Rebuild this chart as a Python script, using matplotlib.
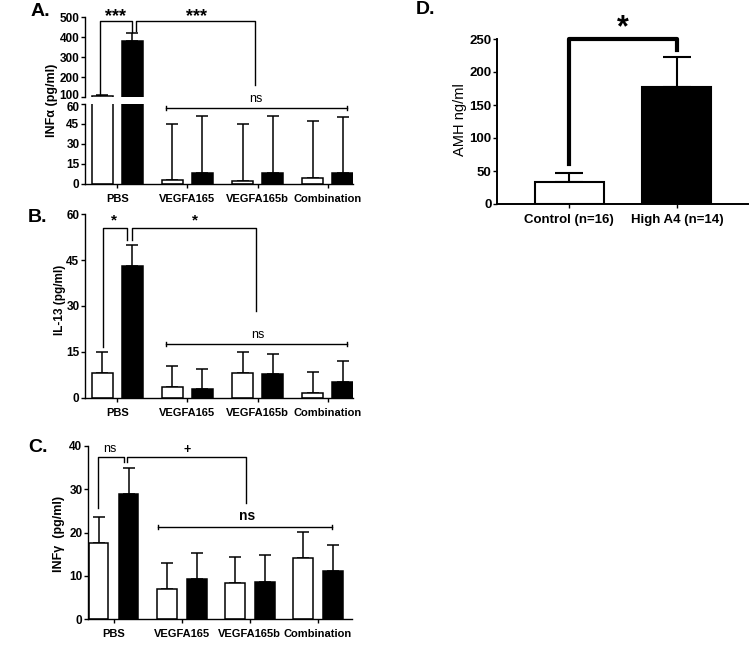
import numpy as np
import matplotlib
matplotlib.use('Agg')
import matplotlib.pyplot as plt
from matplotlib.transforms import ScaledTranslation

plt.rcParams['font.family'] = ['Liberation Sans', 'DejaVu Sans']
plt.rcParams['font.weight'] = 'bold'
plt.rcParams['axes.linewidth'] = 1.0

groups = ['PBS', 'VEGFA165', 'VEGFA165b', 'Combination']

# panel A: INFα (pg/ml)
a_white = [103, 3, 2.5, 4.5]
a_white_err = [5, 42, 42.5, 42.5]
a_black = [380, 8.5, 8.5, 8]
a_black_err = [40, 42.5, 42.5, 42]

# panel B: IL-13 (pg/ml)
b_white = [8.2, 3.5, 8.2, 1.6]
b_white_err = [6.8, 6.9, 6.8, 6.9]
b_black = [43, 2.8, 7.8, 5.2]
b_black_err = [6.8, 6.7, 6.7, 6.8]

# panel C: INFγ (pg/ml)
c_white = [17.5, 7.0, 8.4, 14.1]
c_white_err = [6.0, 6.0, 6.0, 6.0]
c_black = [28.9, 9.3, 8.6, 11.1]
c_black_err = [6.0, 6.0, 6.1, 6.0]

# panel D: AMH ng/ml
d_groups = ['Control (n=16)', 'High A4 (n=14)']
d_values = [33, 177]
d_err = [14, 46]

W, H = 750, 646


def rect(left, top, right, bottom):
    return [left / W, 1 - bottom / H, (right - left) / W, (bottom - top) / H]


def style(ax, bottom=True):
    ax.spines['top'].set_visible(False)
    ax.spines['right'].set_visible(False)
    if not bottom:
        ax.spines['bottom'].set_visible(False)
    ax.tick_params(axis='y', length=3, width=1, labelsize=8.5, pad=1)
    ax.tick_params(axis='x', length=3, width=1, labelsize=8, pad=4)


def bars(ax, white, werr, black, berr, off, width):
    x = np.arange(len(white))
    ax.bar(x - off, white, width, color='white', edgecolor='black', lw=1.1, zorder=2)
    ax.bar(x + off, black, width, color='black', edgecolor='black', lw=1.1, zorder=2)
    ax.errorbar(x - off, white, yerr=[np.zeros(len(white)), werr], fmt='none',
                ecolor='black', elinewidth=1.1, capsize=4, capthick=1.1, zorder=1)
    ax.errorbar(x + off, black, yerr=[np.zeros(len(black)), berr], fmt='none',
                ecolor='black', elinewidth=1.1, capsize=4, capthick=1.1, zorder=1)


def bracket(ax, x1, x2, top, y1, y2, lw=1.0):
    ax.plot([x1, x1, x2, x2], [y1, top, top, y2], color='black', lw=lw, clip_on=False)


def ns_line(ax, x1, x2, y, tick):
    ax.plot([x1, x2], [y, y], color='black', lw=1.0, clip_on=False)
    for xx in (x1, x2):
        ax.plot([xx, xx], [y - tick, y + tick], color='black', lw=1.0, clip_on=False)


fig = plt.figure(figsize=(7.5, 6.46), dpi=100)

# ---- A (broken axis) ----
axu = fig.add_axes(rect(85, 17, 353, 97))
axl = fig.add_axes(rect(85, 104, 353, 184))
for ax in (axu, axl):
    bars(ax, a_white, a_white_err, a_black, a_black_err, 0.213, 0.3)
    ax.set_xlim(-0.46, 3.36)
axu.set_ylim(100, 500)
axu.set_yticks([100, 200, 300, 400, 500])
axu.set_xticks([])
style(axu, bottom=False)
axl.set_ylim(0, 60)
axl.set_yticks([0, 15, 30, 45, 60])
axl.set_xticks(range(4))
axl.set_xticklabels(groups)
style(axl)
# nudge the two labels at the break apart a little
lab100 = axu.yaxis.get_major_ticks()[0].label1
lab100.set_transform(lab100.get_transform() + ScaledTranslation(0, 2.5 / 100, fig.dpi_scale_trans))
lab60 = axl.yaxis.get_major_ticks()[-1].label1
lab60.set_transform(lab60.get_transform() + ScaledTranslation(0, -2.5 / 100, fig.dpi_scale_trans))
bracket(axu, -0.25, 0.21, 480, 110, 425)
bracket(axu, 0.26, 1.96, 480, 430, 160)
axu.text(-0.02, 460, '***', ha='center', va='bottom', fontsize=13)
axu.text(1.13, 460, '***', ha='center', va='bottom', fontsize=13)
ns_line(axl, 0.70, 3.27, 57, 1.5)
axl.text(1.98, 59, 'ns', ha='center', va='bottom', fontsize=9, fontweight='normal')
fig.text(52 / W, 1 - 100 / H, 'INFα (pg/ml)', rotation=90, ha='center', va='center', fontsize=9)

# ---- B ----
axb = fig.add_axes(rect(85, 214, 353, 398))
bars(axb, b_white, b_white_err, b_black, b_black_err, 0.213, 0.3)
axb.set_xlim(-0.46, 3.36)
axb.set_ylim(0, 60)
axb.set_yticks([0, 15, 30, 45, 60])
axb.set_xticks(range(4))
axb.set_xticklabels(groups)
style(axb)
bracket(axb, -0.2, 0.145, 55.4, 16.6, 51.5)
bracket(axb, 0.215, 1.98, 55.4, 51.5, 28.4)
axb.text(-0.04, 55.5, '*', ha='center', va='bottom', fontsize=11)
axb.text(1.11, 55.5, '*', ha='center', va='bottom', fontsize=11)
ns_line(axb, 0.70, 3.28, 17.6, 0.8)
axb.text(2.0, 18.6, 'ns', ha='center', va='bottom', fontsize=9, fontweight='normal')
fig.text(60 / W, 1 - 300 / H, 'IL-13 (pg/ml)', rotation=90, ha='center', va='center', fontsize=8.5)

# ---- C ----
axc = fig.add_axes(rect(88, 446, 352, 619))
bars(axc, c_white, c_white_err, c_black, c_black_err, 0.22, 0.29)
axc.set_xlim(-0.375, 3.5)
axc.set_ylim(0, 40)
axc.set_yticks([0, 10, 20, 30, 40])
axc.set_xticks(range(4))
axc.set_xticklabels(groups)
style(axc)
bracket(axc, -0.23, 0.15, 37.4, 25.6, 36.3)
bracket(axc, 0.2, 1.95, 37.4, 36.3, 26.8)
axc.text(-0.05, 37.9, 'ns', ha='center', va='bottom', fontsize=9, fontweight='normal')
axc.text(1.08, 37.6, '+', ha='center', va='bottom', fontsize=9)
ns_line(axc, 0.65, 3.2, 21.3, 0.5)
axc.text(1.96, 22.2, 'ns', ha='center', va='bottom', fontsize=10)
fig.text(59 / W, 1 - 534 / H, 'INFγ  (pg/ml)', rotation=90, ha='center', va='center', fontsize=9)

# ---- D ----
axd = fig.add_axes(rect(497, 39, 748, 204))
xd = np.arange(len(d_values))
axd.bar(xd, d_values, 0.64, color=['white', 'black'], edgecolor='black', lw=1.5, zorder=2)
axd.errorbar(xd, d_values, yerr=[np.zeros(len(d_values)), d_err], fmt='none',
             ecolor='black', elinewidth=1.5, capsize=10, capthick=1.5, zorder=1)
axd.set_xlim(-0.67, 1.66)
axd.set_ylim(0, 250)
axd.set_yticks([0, 50, 100, 150, 200, 250])
axd.set_xticks(xd)
axd.set_xticklabels(d_groups)
style(axd)
for s in ('left', 'bottom'):
    axd.spines[s].set_linewidth(1.4)
axd.tick_params(labelsize=9.5)
bracket(axd, 0, 1, 250, 61, 234, lw=3)
axd.text(0.5, 244, '*', ha='center', va='bottom', fontsize=22)
fig.text(460 / W, 1 - 120 / H, 'AMH ng/ml', rotation=90, ha='center', va='center',
         fontsize=10.5, fontweight='normal')

# panel letters
fig.text(31 / W, 1 - 11 / H, 'A.', fontsize=14, va='center')
fig.text(28 / W, 1 - 218 / H, 'B.', fontsize=14, va='center')
fig.text(28 / W, 1 - 448 / H, 'C.', fontsize=14, va='center')
fig.text(416 / W, 1 - 9 / H, 'D.', fontsize=14, va='center')

fig.savefig('out.png', dpi=100)
